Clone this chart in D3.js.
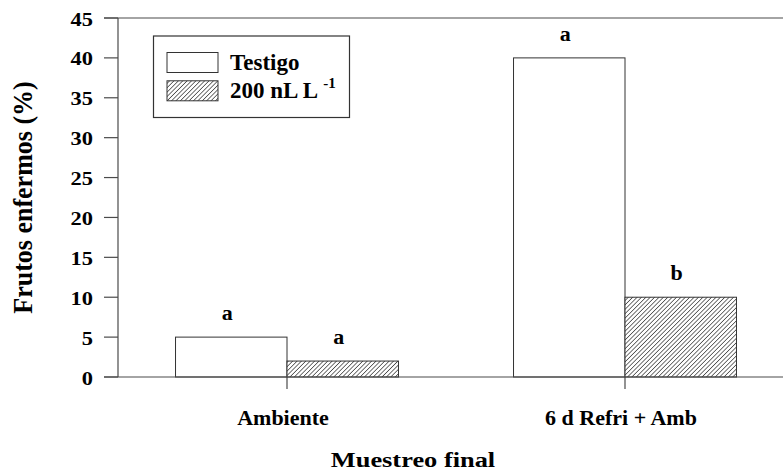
<!DOCTYPE html>
<html>
<head>
<meta charset="utf-8">
<script src="https://cdn.jsdelivr.net/npm/d3@7"></script>
<style>
  html, body { margin: 0; padding: 0; background: #fff; }
  svg { display: block; }
</style>
</head>
<body>
<svg id="chart" width="783" height="475" font-family="Liberation Serif" font-weight="bold"></svg>
<script>
// ---- data ----
const categories = ["Ambiente", "6 d Refri + Amb"];
const seriesNames = ["Testigo", "200 nL L"];
const testigoValues = [5, 40];
const tratadoValues = [2, 10];
const testigoLetters = ["a", "a"];
const tratadoLetters = ["a", "b"];
const yTicks = [0, 5, 10, 15, 20, 25, 30, 35, 40, 45];
const xTitle = "Muestreo final";
const yTitle = "Frutos enfermos (%)";

const svg = d3.select("#chart");
const axisColor = "#4a4a4a";

function txt(sel) {
  return sel.append("text").style("font-family", "'Liberation Serif', monospace").attr("font-weight", "bold").attr("fill", "#000");
}

const x0 = d3.scaleBand().domain(categories).range([118, 794]).paddingInner(0).paddingOuter(0);
const x1 = d3.scaleBand().domain(seriesNames).range([0, x0.bandwidth()]).paddingInner(0).paddingOuter(0.516);
const y = d3.scaleLinear().domain([0, 45]).range([377, 18]);

// hatch pattern
const defs = svg.append("defs");
const pat = defs.append("pattern")
  .attr("id", "hatch").attr("patternUnits", "userSpaceOnUse")
  .attr("width", 3.1).attr("height", 3.1)
  .attr("patternTransform", "rotate(45)");
pat.append("rect").attr("width", 3.1).attr("height", 3.1).attr("fill", "#fff");
pat.append("line").attr("x1", 0).attr("y1", 0).attr("x2", 0).attr("y2", 3.1)
  .attr("stroke", "#000").attr("stroke-width", 1.1);

const rows = categories.map((c, i) => ({
  cat: c,
  vals: [
    { s: seriesNames[0], v: testigoValues[i], l: testigoLetters[i], fill: "#fff" },
    { s: seriesNames[1], v: tratadoValues[i], l: tratadoLetters[i], fill: "url(#hatch)" }
  ]
}));

// bars
const g = svg.append("g");
rows.forEach(r => {
  r.vals.forEach(d => {
    const bx = x0(r.cat) + x1(d.s);
    g.append("rect")
      .attr("x", bx).attr("y", y(d.v))
      .attr("width", x1.bandwidth()).attr("height", y(0) - y(d.v))
      .attr("fill", d.fill).attr("stroke", "#333").attr("stroke-width", 1);
    txt(g)
      .attr("transform", `translate(${bx + x1.bandwidth() / 2 - 4},${y(d.v) - 17}) scale(1.1,1)`)
      .attr("text-anchor", "middle").attr("font-size", 20)
      .text(d.l);
  });
});

// y axis
const yAxisG = svg.append("g");
yAxisG.append("line").attr("x1", 118).attr("x2", 118).attr("y1", y(45)).attr("y2", y(0))
  .attr("stroke", axisColor).attr("stroke-width", 1.2);
yTicks.forEach(t => {
  yAxisG.append("line").attr("x1", 104).attr("x2", 118).attr("y1", y(t)).attr("y2", y(t))
    .attr("stroke", axisColor).attr("stroke-width", 1.2);
  txt(yAxisG)
    .attr("transform", `translate(93,${y(t) + 7.5}) scale(1.15,1)`)
    .attr("text-anchor", "end").attr("font-size", 19.5)
    .text(t);
});
// top frame & x axis
svg.append("line").attr("x1", 104).attr("x2", 794).attr("y1", y(45)).attr("y2", y(45))
  .attr("stroke", axisColor).attr("stroke-width", 1.2);
svg.append("line").attr("x1", 104).attr("x2", 794).attr("y1", y(0)).attr("y2", y(0))
  .attr("stroke", axisColor).attr("stroke-width", 1.2);

// x category ticks and labels
categories.forEach(c => {
  const cx = x0(c) + x0.bandwidth() / 2;
  svg.append("line").attr("x1", cx).attr("x2", cx).attr("y1", y(0)).attr("y2", y(0) + 12)
    .attr("stroke", axisColor).attr("stroke-width", 1.2);
  txt(svg)
    .attr("transform", `translate(${cx - 4},425) scale(1.1,1)`)
    .attr("text-anchor", "middle").attr("font-size", 20)
    .text(c);
});

// axis titles
txt(svg)
  .attr("transform", "translate(413,467) scale(1.2,1)")
  .attr("text-anchor", "middle").attr("font-size", 22)
  .text(xTitle);
txt(svg)
  .attr("transform", "translate(32,197.5) scale(1.09,1) rotate(-90)")
  .attr("text-anchor", "middle").attr("font-size", 26)
  .text(yTitle);

// legend
const lg = svg.append("g");
lg.append("rect").attr("x", 153.5).attr("y", 36).attr("width", 196).attr("height", 81.5)
  .attr("fill", "#fff").attr("stroke", "#333").attr("stroke-width", 1.2);
const legendFills = ["#fff", "url(#hatch)"];
seriesNames.forEach((s, i) => {
  lg.append("rect").attr("x", 167).attr("y", 52.5 + i * 28.3).attr("width", 51).attr("height", 20)
    .attr("fill", legendFills[i]).attr("stroke", "#333").attr("stroke-width", 1);
  const t = txt(lg).attr("x", 230).attr("y", 70 + i * 28.3).attr("font-size", 23).text(s);
  if (i === 1) {
    t.append("tspan").attr("font-size", 15).attr("dx", 5).attr("dy", -10).text("-1");
  }
});
</script>
</body>
</html>
